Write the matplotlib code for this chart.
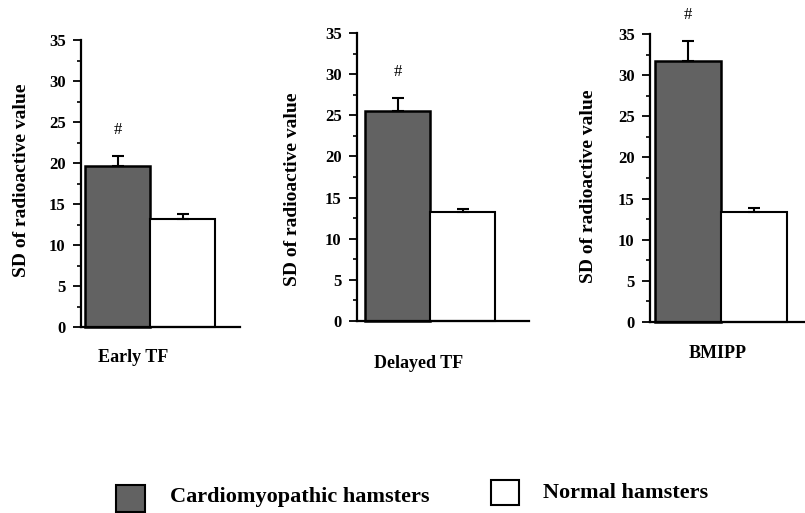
import matplotlib
matplotlib.use("Agg")
import matplotlib.pyplot as plt
from matplotlib.ticker import MultipleLocator
from matplotlib.patches import Rectangle

plt.rcParams['font.family'] = ['Liberation Serif', 'DejaVu Serif']
plt.rcParams['font.weight'] = 'bold'

panels = ["Early TF", "Delayed TF", "BMIPP"]
groups = ["Cardiomyopathic hamsters", "Normal hamsters"]
cardio_mean = [19.6, 25.5, 31.7]
cardio_err = [1.2, 1.6, 2.5]
normal_mean = [13.2, 13.2, 13.4]
normal_err = [0.6, 0.4, 0.5]
marks = ["#", "#", "#"]
y_label = "SD of radioactive value"
y_ticks = [0, 5, 10, 15, 20, 25, 30, 35]

W, H = 805, 513
fig = plt.figure(figsize=(W / 100, H / 100), dpi=100)

def px_axes(x0, x1, y_bottom, y_top):
    return fig.add_axes([x0 / W, 1 - y_bottom / H, (x1 - x0) / W, (y_bottom - y_top) / H])

# layout in pixels: axis x, baseline end, y of 0, y of 35, bar offset, bar width px
layout = [
    dict(ax=81, end=240, y0=327, y35=40, b1=85, bw=65, ylx=22, yly=180, lx=133, ly=358),
    dict(ax=357, end=529, y0=321, y35=33, b1=365, bw=65, ylx=292, yly=189, lx=419, ly=363),
    dict(ax=650, end=805, y0=322, y35=34, b1=655, bw=66, ylx=588, yly=186, lx=718, ly=353),
]

gray = "#626262"
for i, L in enumerate(layout):
    ax = px_axes(L['ax'], L['end'], L['y0'], L['y35'])
    bw = L['bw']
    ax.set_xlim(0, L['end'] - L['ax'])
    ax.set_ylim(0, 35)
    x1 = L['b1'] - L['ax']
    ax.bar([x1], [cardio_mean[i]], width=bw, align='edge', color=gray,
           edgecolor='black', linewidth=1.8, zorder=2, clip_on=False)
    ax.bar([x1 + bw], [normal_mean[i]], width=bw, align='edge', color='white',
           edgecolor='black', linewidth=1.5, zorder=2, clip_on=False)
    ax.errorbar([x1 + bw / 2], [cardio_mean[i]], yerr=[[0], [cardio_err[i]]],
                fmt='none', ecolor='black', elinewidth=1.5, capsize=4, capthick=1.5,
                zorder=3, clip_on=False)
    ax.errorbar([x1 + 1.5 * bw], [normal_mean[i]], yerr=[[0], [normal_err[i]]],
                fmt='none', ecolor='black', elinewidth=1.5, capsize=4, capthick=1.5,
                zorder=3)
    ax.annotate(marks[i], xy=(x1 + bw / 2, cardio_mean[i] + cardio_err[i]),
                xytext=(0, 26), textcoords='offset pixels', ha='center', va='center',
                fontsize=12, fontweight='normal', annotation_clip=False)
    for s in ['top', 'right']:
        ax.spines[s].set_visible(False)
    ax.spines['left'].set_linewidth(1.6)
    ax.spines['bottom'].set_linewidth(1.6)
    ax.set_xticks([])
    ax.set_yticks(y_ticks)
    ax.yaxis.set_minor_locator(MultipleLocator(2.5))
    ax.tick_params(axis='y', which='major', length=6, width=1.3, direction='out',
                   labelsize=12, pad=5)
    ax.tick_params(axis='y', which='minor', length=3, width=1.2, direction='out')
    for lab in ax.get_yticklabels():
        lab.set_fontweight('bold')
    ax.patch.set_alpha(0)
    fig.text(L['ylx'] / W, 1 - L['yly'] / H, y_label, rotation=90, ha='center',
             va='center', fontsize=14, fontweight='bold')
    fig.text(L['lx'] / W, 1 - L['ly'] / H, panels[i], ha='center', va='center',
             fontsize=13, fontweight='bold')

# legend
fig.patches.append(Rectangle((116 / W, 1 - 512 / H), 29 / W, 27 / H, transform=fig.transFigure,
                             facecolor=gray, edgecolor='black', linewidth=1.5))
fig.text(170 / W, 1 - 497 / H, groups[0], ha='left', va='center', fontsize=16,
         fontweight='bold')
fig.patches.append(Rectangle((491 / W, 1 - 505 / H), 28 / W, 25 / H, transform=fig.transFigure,
                             facecolor='white', edgecolor='black', linewidth=1.5))
fig.text(543 / W, 1 - 493 / H, groups[1], ha='left', va='center', fontsize=16,
         fontweight='bold')

fig.savefig("out.png", dpi=100)
